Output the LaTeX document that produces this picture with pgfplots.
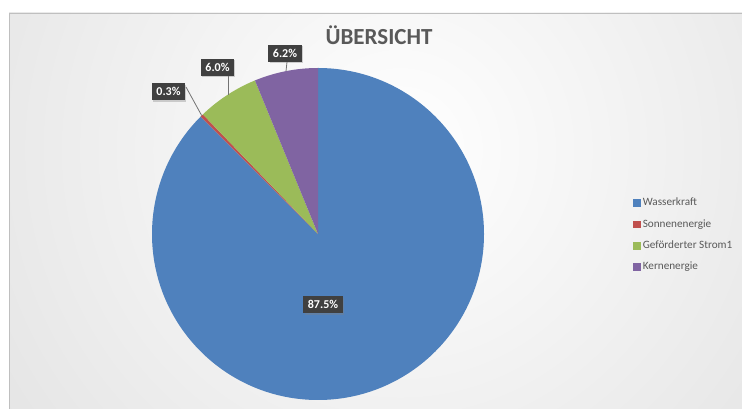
\documentclass[border=0pt]{standalone}
\usepackage{pgfplots}
\pgfplotsset{compat=1.18}
\usepackage{pgfplotstable}
\usetikzlibrary{shadows}
\usepackage{fontspec}
\setmainfont{Carlito}
\definecolor{cWK}{HTML}{4F81BD}
\definecolor{cSE}{HTML}{C0504D}
\definecolor{cGS}{HTML}{9BBB59}
\definecolor{cKE}{HTML}{8064A2}
\definecolor{txt}{HTML}{595959}
\definecolor{lbl}{HTML}{404040}

\pgfplotstableread[col sep=comma]{
label,value
Wasserkraft,87.5
Sonnenenergie,0.3
Geförderter Strom1,6.0
Kernenergie,6.2
}\piedata

\begin{document}
\begin{tikzpicture}[x=1pt,y=1pt,
  lblbox/.style={fill=lbl, text=white, font=\bfseries\fontsize{12}{14}\selectfont,
    inner xsep=4.5pt, inner ysep=0pt, text height=8.5pt, text depth=0.5pt, minimum height=17pt,
    drop shadow={shadow xshift=1.2pt, shadow yshift=-1.2pt, opacity=0.35}},
  leader/.style={draw=black!55, line width=0.8pt}]
\useasboundingbox (0,0) rectangle (742,409);
\fill[white] (0,0) rectangle (742,409);
\begin{scope}
\clip (9,0) rectangle (742,396);
\shade[inner color=white, outer color=black!18] (400,259) circle (840);
\end{scope}
\draw[black!25, line width=0.75pt] (9,0) -- (9,396) -- (742,396);

\pgfplotstablegetelem{0}{value}\of\piedata \pgfmathsetmacro\vA{\pgfplotsretval}
\pgfplotstablegetelem{1}{value}\of\piedata \pgfmathsetmacro\vB{\pgfplotsretval}
\pgfplotstablegetelem{2}{value}\of\piedata \pgfmathsetmacro\vC{\pgfplotsretval}
\pgfplotstablegetelem{3}{value}\of\piedata \pgfmathsetmacro\vD{\pgfplotsretval}
\pgfmathsetmacro\aA{90}
\pgfmathsetmacro\aB{\aA-3.6*\vA}
\pgfmathsetmacro\aC{\aB-3.6*\vB}
\pgfmathsetmacro\aD{\aC-3.6*\vC}
\pgfmathsetmacro\aE{\aD-3.6*\vD}

\begin{axis}[at={(0,0)}, anchor=south west, width=742pt, height=409pt, scale only axis,
  xmin=0, xmax=742, ymin=0, ymax=409, hide axis, clip=false,
  legend image code/.code={\fill[#1] (0pt,-3.3pt) rectangle (6.6pt,3.3pt);},
  legend style={at={(633/742,212.5/409)}, anchor=north west, draw=none, fill=none,
    inner sep=0pt, row sep=8.8pt,
    font=\fontsize{11.2}{13}\selectfont, text=txt,
    nodes={inner sep=0pt, inner xsep=2.6pt, text height=9pt, text depth=3.5pt}},
  legend cell align=left]
\addlegendimage{cWK}\addlegendentry{Wasserkraft}
\addlegendimage{cSE}\addlegendentry{Sonnenenergie}
\addlegendimage{cGS}\addlegendentry{Geförderter Strom1}
\addlegendimage{cKE}\addlegendentry{Kernenergie}

\fill[cWK] (axis cs:318,175) -- ++(\aA:166pt) arc[start angle=\aA, end angle=\aB, radius=166pt] -- cycle;
\fill[cSE] (axis cs:318,175) -- ++(\aB:166pt) arc[start angle=\aB, end angle=\aC, radius=166pt] -- cycle;
\fill[cGS] (axis cs:318,175) -- ++(\aC:166pt) arc[start angle=\aC, end angle=\aD, radius=166pt] -- cycle;
\fill[cKE] (axis cs:318,175) -- ++(\aD:166pt) arc[start angle=\aD, end angle=\aE, radius=166pt] -- cycle;

\draw[leader] (axis cs:186,322) -- (axis cs:201.7,293.4);
\draw[leader] (axis cs:228,333) -- (axis cs:228,314.1);
\draw[leader] (axis cs:287,347) -- (axis cs:286,337.8);

\node[lblbox] at (axis cs:323,104) {87.5\%};
\node[lblbox] at (axis cs:168.5,317) {0.3\%};
\node[lblbox] at (axis cs:217.5,341.5) {6.0\%};
\node[lblbox] at (axis cs:285,355.5) {6.2\%};

\node[anchor=base, font=\bfseries\fontsize{23}{27}\selectfont, text=txt] at (axis cs:379,364) {ÜBERSICHT};
\end{axis}
\end{tikzpicture}
\end{document}
